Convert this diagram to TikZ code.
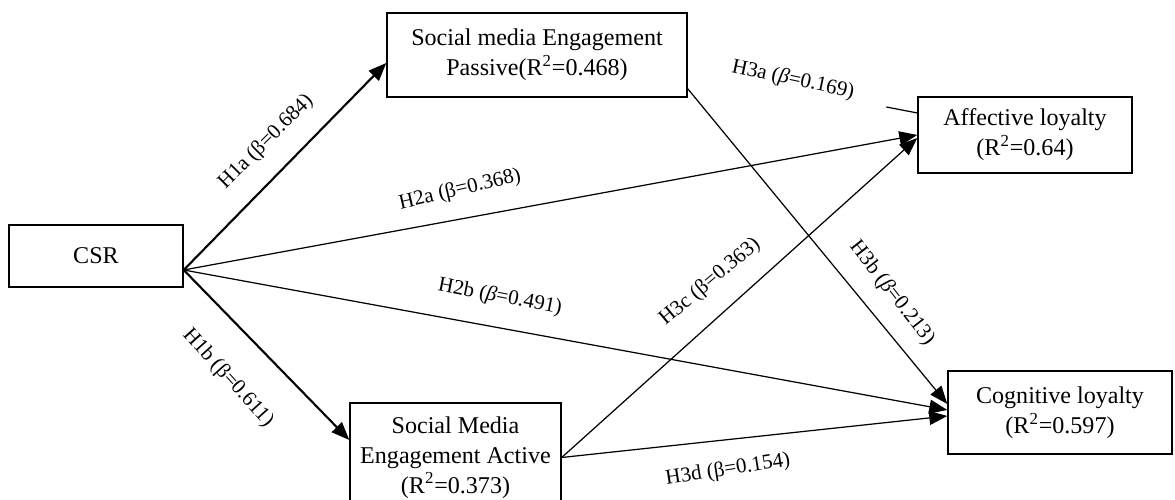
\documentclass[tikz,border=0pt]{standalone}
\usepackage{fontspec}
\setmainfont{Liberation Serif}
\usepackage{tikz}
\usetikzlibrary{positioning,arrows.meta,calc}
\newcommand{\bfont}{\fontsize{13.7}{17}\selectfont}
\newcommand{\lfont}{\fontsize{12}{14}\selectfont}
\newcommand{\rsq}[1]{R\textsuperscript{2}=#1}
\begin{document}
\begin{tikzpicture}[
        cbox/.style={draw, line width=0.8pt, align=center, inner sep=2pt, font=\bfont},
        lab/.style={inner sep=0pt, font=\lfont},
        arr/.style={-{Triangle[length=0.36cm,width=0.28cm]}, line width=0.7pt},
        tarr/.style={arr, line width=1.2pt}
    ]
    \clip (0,0) rectangle (23.5,10);
    \node[cbox, minimum width=3.48cm, minimum height=1.24cm] (csr) at (1.92,4.88) {CSR};
    \node[cbox, minimum width=6.0cm, minimum height=1.68cm] (pas) at (10.74,8.90) {%
      Social media Engagement\\Passive(\rsq{0.468})%
    };
    \node[cbox, minimum width=4.22cm, minimum height=2.18cm] (act) at (9.11,0.85) {%
      Social Media\\Engagement Active\\(\rsq{0.373})%
    };
    \node[cbox, minimum width=4.28cm, minimum height=1.52cm] (aff) at (20.5,7.30) {%
      Affective loyalty\\(\rsq{0.64})%
    };
    \node[cbox, minimum width=4.48cm, minimum height=1.66cm] (cog) at (21.2,1.75) {%
      Cognitive loyalty\\(\rsq{0.597})%
    };
    \coordinate (src) at ($(csr.east)+(0,-0.28)$);
    \draw[tarr] (src) -- ($(pas.west)+(0,-0.16)$);
    \draw[tarr] (src) -- ($(act.west)+(0,0.35)$);
    \draw[arr] (src) -- (aff.west);
    \draw[arr] (src) -- ($(cog.west)+(0,0.05)$);
    \draw[arr] ($(pas.south east)+(0,0.18)$) -- ($(cog.west)+(0,0.17)$);
    \draw[arr] (act.east) -- ($(aff.west)+(0,-0.06)$);
    \draw[arr] (act.east) -- ($(cog.west)+(0,-0.07)$);
    \coordinate (stub) at ($(aff.west)+(-0.62,0.56)$);
    \draw[line width=0.7pt] (stub) -- ($(aff.west)+(0,0.44)$);
    \node[lab, rotate=45] (l1a) at (5.32,7.16) {H1a (β=0.684)};
    \node[lab, rotate=-48] (l1b) at (4.56,2.44) {H1b (β=0.611)};
    \node[lab, rotate=13] (l2a) at (9.2,6.2) {H2a (β=0.368)};
    \node[lab, rotate=-11] (l2b) at (10.0,4.06) {H2b ({\itshape β}=0.491)};
    \node[lab, rotate=-12] (l3a) at (15.86,8.4) {H3a ({\itshape β}=0.169)};
    \node[lab, rotate=-52] (l3b) at (17.84,4.14) {H3b ({\itshape β}=0.213)};
    \node[lab, rotate=40] (l3c) at (14.2,4.36) {H3c (β=0.363)};
    \node[lab, rotate=9] (l3d) at (14.56,0.6) {H3d (β=0.154)};
\end{tikzpicture}
\end{document}
